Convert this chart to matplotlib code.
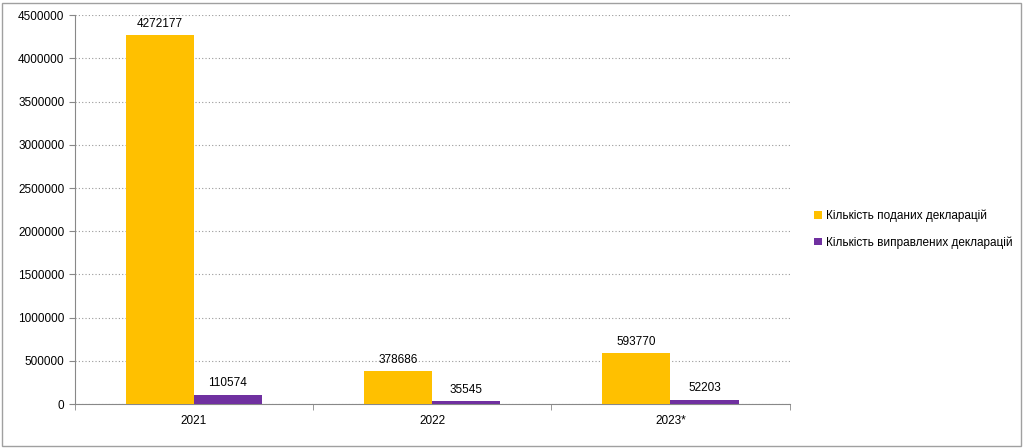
import matplotlib
matplotlib.use("Agg")
import matplotlib.pyplot as plt
import numpy as np
from matplotlib.patches import Rectangle

categories = ["2021", "2022", "2023*"]
submitted = [4272177, 378686, 593770]
corrected = [110574, 35545, 52203]
labels = ["Кількість поданих декларацій", "Кількість виправлених декларацій"]

plt.rcParams['font.family'] = ['Liberation Sans', 'DejaVu Sans']
fig = plt.figure(figsize=(10.24, 4.48), dpi=100)
fig.patches.append(Rectangle((0.002, 0.004), 0.995, 0.99, transform=fig.transFigure,
                             fill=False, edgecolor='#a0a0a0', linewidth=1))
ax = fig.add_axes([0.073, 0.098, 0.698, 0.868])
x = np.arange(len(categories))
w = 0.286
b1 = ax.bar(x - w/2, submitted, w, color='#FFC000', label=labels[0], zorder=3)
b2 = ax.bar(x + w/2, corrected, w, color='#7030A0', label=labels[1], zorder=3)
for bars in (b1, b2):
    for r in bars:
        ax.text(r.get_x() + r.get_width()/2, r.get_height() + 60000, str(int(r.get_height())),
                ha='center', va='bottom', fontsize=8.5)
ax.set_xlim(-0.5, 2.5)
ax.set_ylim(0, 4500000)
ax.set_yticks(np.arange(0, 4500001, 500000))
ax.set_yticklabels([str(v) for v in range(0, 4500001, 500000)], fontsize=8.5)
ax.set_xticks(x)
ax.set_xticklabels(categories, fontsize=8.5)
ax.set_xticks([-0.5, 0.5, 1.5, 2.5], minor=True)
ax.tick_params(axis='x', which='major', length=0, pad=8)
ax.tick_params(axis='x', which='minor', length=4, color='#888888')
ax.tick_params(axis='y', length=4, color='#888888')
ax.grid(axis='y', linestyle=(0, (1, 2)), color='#999999', linewidth=0.8, zorder=0)
for s in ['top', 'right']:
    ax.spines[s].set_visible(False)
for s in ['left', 'bottom']:
    ax.spines[s].set_color('#888888')
ax.legend(loc='center left', bbox_to_anchor=(1.02, 0.45), frameon=False, fontsize=8.5,
          handlelength=0.6, handleheight=0.6, labelspacing=1.2, handletextpad=0.4)
fig.savefig("out.png", dpi=100)
